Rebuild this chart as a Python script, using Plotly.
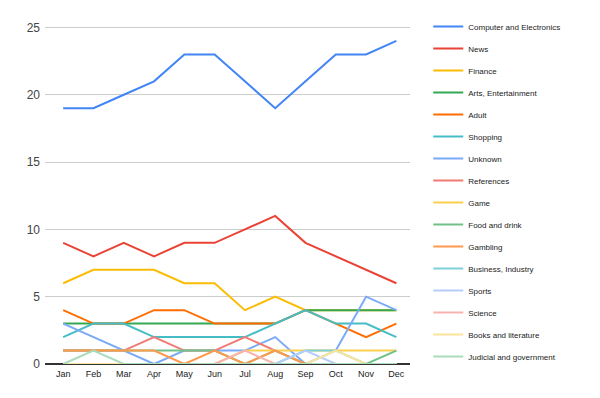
import plotly.graph_objects as go

months = ["Jan", "Feb", "Mar", "Apr", "May", "Jun", "Jul", "Aug", "Sep", "Oct", "Nov", "Dec"]

computer = [19, 19, 20, 21, 23, 23, 21, 19, 21, 23, 23, 24]
news = [9, 8, 9, 8, 9, 9, 10, 11, 9, 8, 7, 6]
finance = [6, 7, 7, 7, 6, 6, 4, 5, 4, 4, 4, 4]
arts = [3, 3, 3, 3, 3, 3, 3, 3, 4, 4, 4, 4]
adult = [4, 3, 3, 4, 4, 3, 3, 3, 4, 3, 2, 3]
shopping = [2, 3, 3, 2, 2, 2, 2, 3, 4, 3, 3, 2]
unknown = [3, 2, 1, 0, 1, 1, 1, 2, 0, 1, 5, 4]
references = [1, 1, 1, 2, 1, 1, 2, 1, 0, 0, 0, 0]
game = [0, 0, 0, 0, 0, 0, 1, 1, 1, 1, 1, 1]
food = [1, 1, 1, 1, 1, 1, 0, 1, 0, 0, 0, 1]
gambling = [1, 1, 1, 1, 0, 1, 0, 1, 0, 0, 0, 0]
business = [0, 0, 0, 0, 0, 0, 0, 0, 1, 1, 0, 0]
sports = [0, 0, 0, 0, 0, 0, 0, 0, 1, 0, 0, 0]
science = [0, 0, 0, 0, 0, 0, 1, 0, 0, 0, 0, 0]
books = [0, 0, 0, 0, 0, 0, 0, 0, 0, 1, 0, 0]
judicial = [0, 1, 0, 0, 0, 0, 0, 0, 0, 0, 0, 0]

series = [
    ("Computer and Electronics", computer, "#4285f4"),
    ("News", news, "#ea4335"),
    ("Finance", finance, "#fbbc04"),
    ("Arts, Entertainment", arts, "#34a853"),
    ("Adult", adult, "#ff6d01"),
    ("Shopping", shopping, "#46bdc6"),
    ("Unknown", unknown, "#7baaf7"),
    ("References", references, "#f07b72"),
    ("Game", game, "#fcd04f"),
    ("Food and drink", food, "#71c287"),
    ("Gambling", gambling, "#ff994d"),
    ("Business, Industry", business, "#7ed1d7"),
    ("Sports", sports, "#b3cefb"),
    ("Science", science, "#f7b4ae"),
    ("Books and literature", books, "#fde49b"),
    ("Judicial and government", judicial, "#aadcbc"),
]

fig = go.Figure()
for i, (name, vals, color) in enumerate(series):
    fig.add_trace(go.Scatter(
        x=months, y=vals, name=name, mode="lines",
        line=dict(color=color, width=2),
        legendgroup=f"g{i}",
    ))

# page body has an 8px default margin, so the figure is 592x390
fig.update_layout(
    width=592, height=390,
    margin=dict(l=37, r=190, t=4, b=34),
    paper_bgcolor="white", plot_bgcolor="white",
    font=dict(family="Liberation Sans, Arial, sans-serif", color="#222"),
    showlegend=True,
    legend=dict(
        x=1.05, y=1.006, xanchor="left", yanchor="top",
        font=dict(size=8, color="#222"),
        tracegroupgap=3,
        maxheight=1.0,
        bgcolor="rgba(0,0,0,0)",
    ),
    xaxis=dict(
        range=[-0.6, 11.45], showgrid=False, zeroline=False,
        showline=False, ticks="",
        tickfont=dict(size=9, color="#222"),
        ticklabelstandoff=3,
    ),
    yaxis=dict(
        range=[0, 26], dtick=5, tick0=0,
        showgrid=True, gridcolor="#cccccc", gridwidth=1,
        zeroline=True, zerolinecolor="#333333", zerolinewidth=1.5,
        showline=False, ticks="",
        tickfont=dict(size=12, color="#444"),
        ticklabelstandoff=4,
    ),
)

fig.write_html("out.html")
